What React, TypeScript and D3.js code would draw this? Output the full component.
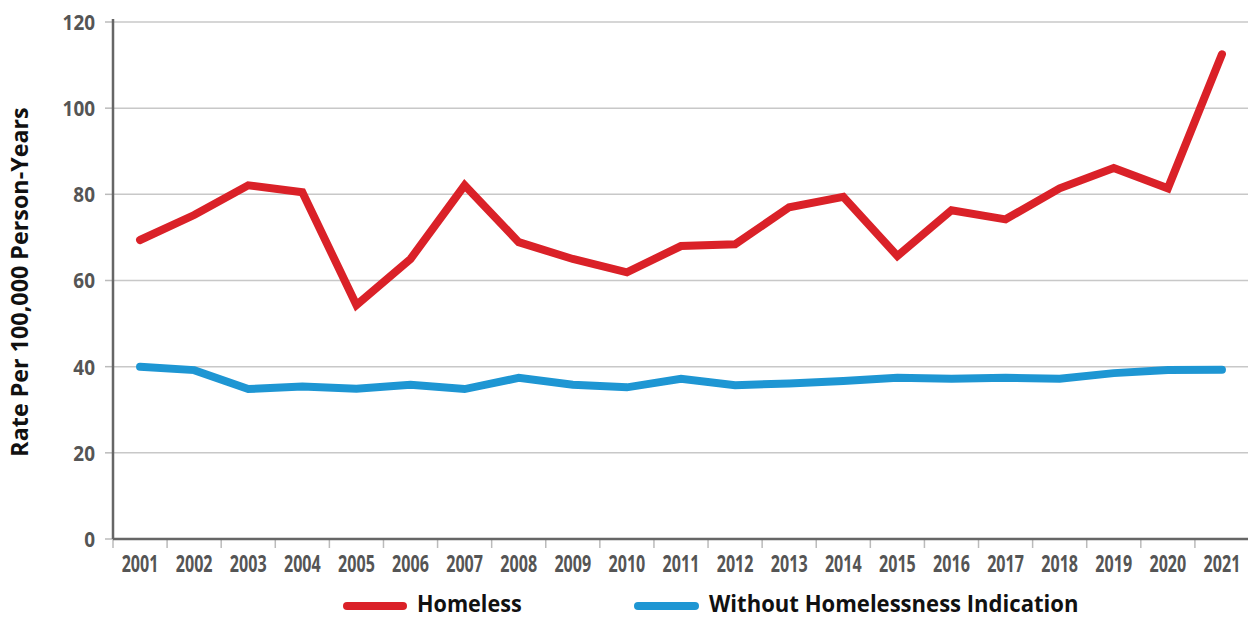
import React from "react";
import * as d3 from "d3";

const years = ["2001","2002","2003","2004","2005","2006","2007","2008","2009","2010","2011","2012","2013","2014","2015","2016","2017","2018","2019","2020","2021"];
const homeless = [69.4,75.2,82.1,80.5,54.3,65.0,82.1,68.9,65.0,61.9,68.0,68.4,77.0,79.4,65.7,76.3,74.2,81.4,86.1,81.4,112.5];
const without = [40.0,39.2,34.8,35.4,34.9,35.8,34.8,37.4,35.8,35.2,37.2,35.7,36.1,36.7,37.4,37.2,37.4,37.2,38.5,39.2,39.3];
const yTicks = [0,20,40,60,80,100,120];
const seriesNames = ["Homeless","Without Homelessness Indication"];
const seriesColors = ["#DA2128","#1E96D3"];

const W = 1248, H = 619;
const left = 113, right = 1249, top = 22, bottom = 539;
const FONT = "'Open Sans',sans-serif";

export default function App() {
  const x = d3.scaleBand().domain(years).range([left, right]);
  const y = d3.scaleLinear().domain([0, 120]).range([bottom, top]);
  const line = d3.line<number>().x((_, i) => (x(years[i]) as number) + x.bandwidth() / 2).y(d => y(d));
  const series = [homeless, without];
  return (
    <svg width={W} height={H} style={{ position: "absolute", left: 0, top: 0 }}>
      <rect width={W} height={H} fill="#fff" />
      {yTicks.map(t => (
        <g key={t}>
          {t > 0 && <line x1={left} x2={W} y1={y(t)} y2={y(t)} stroke="#c8c8c8" strokeWidth={1.5} />}
          <line x1={left - 8} x2={left} y1={y(t)} y2={y(t)} stroke="#bbb" strokeWidth={1.5} />
          <g transform={`translate(95,${y(t)}) scale(0.86,1)`}>
            <text dy="0.36em" textAnchor="end" fontFamily={FONT} fontWeight="bold" fontSize={22} fill="#555">{t}</text>
          </g>
        </g>
      ))}
      {years.map((yr) => (
        <g key={yr}>
          <line x1={x(yr) as number} x2={x(yr) as number} y1={bottom} y2={bottom + 9} stroke="#bbb" strokeWidth={1.5} />
          <g transform={`translate(${(x(yr) as number) + x.bandwidth() / 2},572) scale(0.7,1)`}>
            <text textAnchor="middle" fontFamily={FONT} fontWeight="bold" fontSize={23} fill="#555">{yr}</text>
          </g>
        </g>
      ))}
      <line x1={left} x2={W} y1={bottom} y2={bottom} stroke="#666" strokeWidth={2.5} />
      <line x1={left} x2={left} y1={19} y2={bottom} stroke="#666" strokeWidth={2.5} />
      {series.map((s, i) => (
        <path key={i} d={line(s) || ""} fill="none" stroke={seriesColors[i]} strokeWidth={8} strokeLinejoin="miter" strokeLinecap="round" />
      ))}
      <text transform="translate(28,282) rotate(-90)" textAnchor="middle" fontFamily={FONT} fontWeight="bold" fontSize={23.3} fill="#111">Rate Per 100,000 Person-Years</text>
      <line x1={347} x2={403} y1={606} y2={606} stroke={seriesColors[0]} strokeWidth={8} strokeLinecap="round" />
      <g transform="translate(417,611.5) scale(0.9,1)">
        <text fontFamily={FONT} fontWeight="bold" fontSize={24} fill="#111">{seriesNames[0]}</text>
      </g>
      <line x1={638} x2={695} y1={606} y2={606} stroke={seriesColors[1]} strokeWidth={8} strokeLinecap="round" />
      <g transform="translate(709,611.5) scale(0.92,1)">
        <text fontFamily={FONT} fontWeight="bold" fontSize={24} fill="#111">{seriesNames[1]}</text>
      </g>
    </svg>
  );
}
